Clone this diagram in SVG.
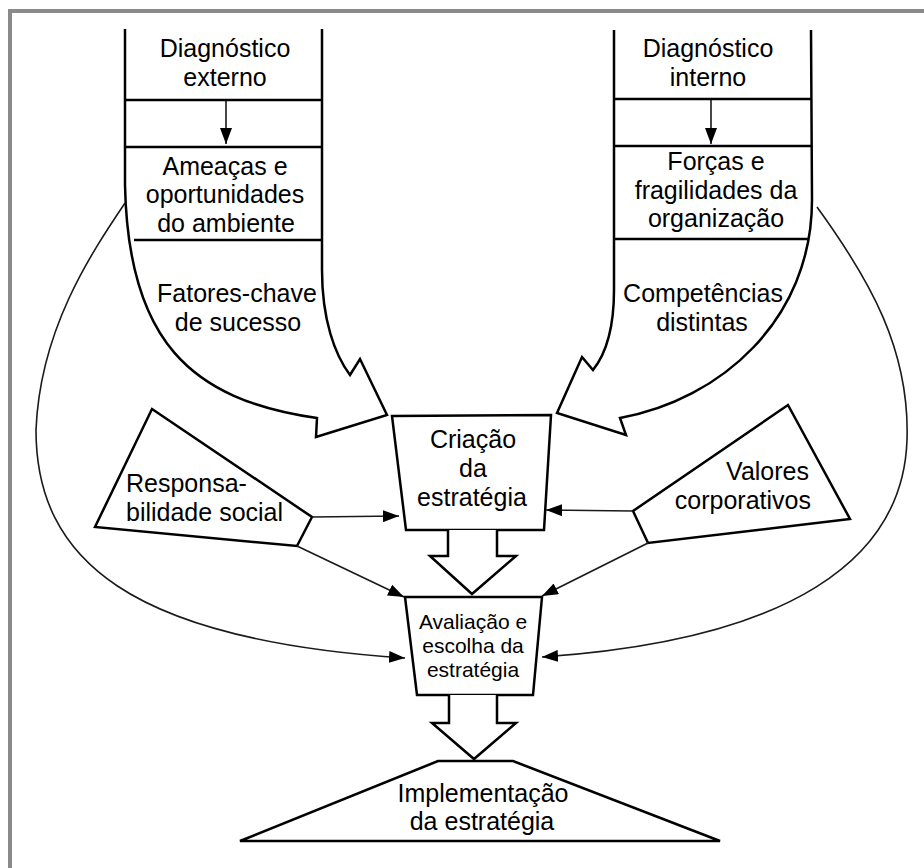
<svg xmlns="http://www.w3.org/2000/svg" width="924" height="868" viewBox="0 0 924 868">
  <style>
    .txt { font-family: "Liberation Sans", Arial, sans-serif; font-size: 25px; fill: #000; text-anchor: middle; }
    .sm { font-size: 21px; }
    .shape { fill: #fff; stroke: #000; stroke-width: 2.5; stroke-linejoin: miter; }
    .open { fill: none; stroke: #000; stroke-width: 2.5; }
    .thin { fill: none; stroke: #1a1a1a; stroke-width: 1.6; }
    .frame { fill: none; stroke: #8a8a8a; stroke-width: 4; }
  </style>
  <defs>
    <marker id="tri" markerUnits="userSpaceOnUse" markerWidth="16" markerHeight="12" refX="16" refY="6" orient="auto">
      <path d="M0,0 L16,6 L0,12 z" fill="#000"/>
    </marker>
  </defs>

  <rect width="924" height="868" fill="#fff"/>
  <rect class="frame" x="10" y="11" width="940" height="880"/>

  <!-- external diagnosis funnel -->
  <g id="diagnostico-externo">
    <path class="open" d="M125,29 L125,185 C128,340 190,400 317,418 L316,437 L387,415 L360,359 L350,375 C335,355 322,320 322,270 L322,29"/>
    <line class="open" x1="125" y1="100" x2="322" y2="100"/>
    <line class="open" x1="125" y1="147" x2="322" y2="147"/>
    <line class="open" x1="134" y1="240" x2="322" y2="240"/>
    <text class="txt" x="225" y="57">Diagnóstico</text>
    <text class="txt" x="225" y="86">externo</text>
    <text class="txt" x="225" y="175">Ameaças e</text>
    <text class="txt" x="225" y="203">oportunidades</text>
    <text class="txt" x="226" y="232">do ambiente</text>
    <text class="txt" x="237" y="302">Fatores-chave</text>
    <text class="txt" x="238" y="331">de sucesso</text>
  </g>

  <!-- internal diagnosis funnel -->
  <g id="diagnostico-interno">
    <path class="open" d="M614,30 L614,290 C614,330 605,355 593,370 L582,357 L557,413 L626,435 L620,418 C720,400 812,320 812,200 L811,30"/>
    <line class="open" x1="614" y1="99" x2="811" y2="99"/>
    <line class="open" x1="614" y1="146" x2="812" y2="146"/>
    <line class="open" x1="614" y1="239" x2="808" y2="239"/>
    <text class="txt" x="708" y="57">Diagnóstico</text>
    <text class="txt" x="708" y="86">interno</text>
    <text class="txt" x="716" y="170">Forças e</text>
    <text class="txt" x="716" y="199">fragilidades da</text>
    <text class="txt" x="716" y="227">organização</text>
    <text class="txt" x="703" y="302">Competências</text>
    <text class="txt" x="702" y="331">distintas</text>
  </g>

  <g id="responsabilidade-social">
    <polygon class="shape" points="152,409 312,517 297,546 95,527"/>
    <text class="txt" x="126" y="492" style="text-anchor:start">Responsa-</text>
    <text class="txt" x="126" y="521" style="text-anchor:start">bilidade social</text>
  </g>

  <g id="valores-corporativos">
    <polygon class="shape" points="788,405 850,519 648,543 633,511"/>
    <text class="txt" x="809" y="480" style="text-anchor:end">Valores</text>
    <text class="txt" x="811" y="509" style="text-anchor:end">corporativos</text>
  </g>

  <g id="criacao">
    <polygon class="shape" points="392,416 551,415 544,530 406,530"/>
    <text class="txt" x="473" y="448">Criação</text>
    <text class="txt" x="473" y="477">da</text>
    <text class="txt" x="472" y="506">estratégia</text>
  </g>

  <g id="avaliacao">
    <polygon class="shape" points="405,597 542,597 533,695 417,695"/>
    <text class="txt sm" x="473" y="629">Avaliação e</text>
    <text class="txt sm" x="473" y="653">escolha da</text>
    <text class="txt sm" x="473" y="677">estratégia</text>
  </g>

  <g id="implementacao">
    <polygon class="shape" points="438,761 513,761 720,841 240,841"/>
    <text class="txt" x="483" y="802">Implementação</text>
    <text class="txt" x="482" y="830">da estratégia</text>
  </g>

  <!-- connectors -->
  <g id="connectors">
    <line class="thin" x1="226" y1="101" x2="226" y2="144" marker-end="url(#tri)"/>
    <line class="thin" x1="711" y1="100" x2="711" y2="144" marker-end="url(#tri)"/>
    <path class="thin" d="M125,203 C90,255 40,330 36,430 C36,560 130,640 405,658" marker-end="url(#tri)"/>
    <path class="thin" d="M817,207 C870,280 910,350 907,440 C903,560 790,640 542,657" marker-end="url(#tri)"/>
    <line class="thin" x1="312" y1="517" x2="399" y2="516" marker-end="url(#tri)"/>
    <line class="thin" x1="297" y1="546" x2="404" y2="597" marker-end="url(#tri)"/>
    <line class="thin" x1="633" y1="511" x2="546" y2="510" marker-end="url(#tri)"/>
    <line class="thin" x1="648" y1="543" x2="542" y2="596" marker-end="url(#tri)"/>
    <path class="shape" d="M448,530 L448,556 L430,556 L472,594 L516,556 L497,556 L497,530"/>
    <path class="shape" d="M449,695 L449,723 L432,723 L474,759 L516,723 L497,723 L497,695"/>
  </g>
</svg>
